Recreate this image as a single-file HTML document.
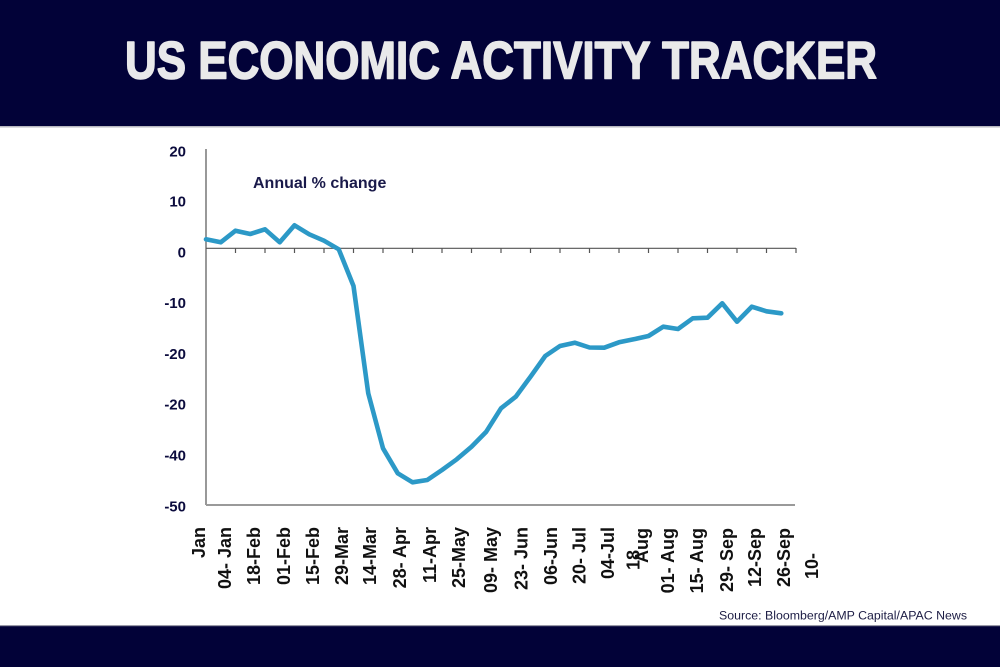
<!DOCTYPE html>
<html>
<head>
<meta charset="utf-8">
<style>
  html,body{margin:0;padding:0;background:#fff;}
  body{width:1000px;height:667px;overflow:hidden;}
  svg{display:block;}
  .yl{font-family:"Liberation Sans",Arial,sans-serif;font-weight:bold;font-size:15px;fill:#0b0b3d;}
  .xl{font-family:"Liberation Sans",Arial,sans-serif;font-weight:bold;font-size:18px;fill:#111;}
</style>
</head>
<body>
<svg width="1000" height="667" viewBox="0 0 1000 667" xmlns="http://www.w3.org/2000/svg">
  <!-- header -->
  <rect x="0" y="0" width="1000" height="126" fill="#020238"/>
  <rect x="0" y="126" width="1000" height="1.5" fill="#b8b8c0"/>
  <text x="125" y="78.5" font-family="'Liberation Sans',Arial,sans-serif" font-weight="bold" font-size="53" fill="#e9e9ea" stroke="#e9e9ea" stroke-width="1.6" stroke-linejoin="round" textLength="752" lengthAdjust="spacingAndGlyphs">US ECONOMIC ACTIVITY TRACKER</text>

  <!-- footer -->
  <rect x="0" y="626" width="1000" height="41" fill="#020238"/>
  <rect x="0" y="625" width="1000" height="1.2" fill="#9a9aa8"/>
  <text x="719" y="619.5" font-family="'Liberation Sans',Arial,sans-serif" font-size="12.3" fill="#1c1c44" textLength="248" lengthAdjust="spacingAndGlyphs">Source: Bloomberg/AMP Capital/APAC News</text>

  <!-- axes -->
  <line x1="206" y1="149" x2="206" y2="505" stroke="#555" stroke-width="1.2"/>
  <line x1="206" y1="505" x2="795" y2="505" stroke="#9a9a9a" stroke-width="2"/>
  <line x1="206" y1="248.3" x2="796" y2="248.3" stroke="#555" stroke-width="1.2"/>
  <g stroke="#555" stroke-width="1.2">
    <line x1="235.5" y1="248" x2="235.5" y2="253"/>
    <line x1="265" y1="248" x2="265" y2="253"/>
    <line x1="294.5" y1="248" x2="294.5" y2="253"/>
    <line x1="324" y1="248" x2="324" y2="253"/>
    <line x1="353.5" y1="248" x2="353.5" y2="253"/>
    <line x1="383" y1="248" x2="383" y2="253"/>
    <line x1="412.5" y1="248" x2="412.5" y2="253"/>
    <line x1="442" y1="248" x2="442" y2="253"/>
    <line x1="471.5" y1="248" x2="471.5" y2="253"/>
    <line x1="501" y1="248" x2="501" y2="253"/>
    <line x1="530.5" y1="248" x2="530.5" y2="253"/>
    <line x1="560" y1="248" x2="560" y2="253"/>
    <line x1="589.5" y1="248" x2="589.5" y2="253"/>
    <line x1="619" y1="248" x2="619" y2="253"/>
    <line x1="648.5" y1="248" x2="648.5" y2="253"/>
    <line x1="678" y1="248" x2="678" y2="253"/>
    <line x1="707.5" y1="248" x2="707.5" y2="253"/>
    <line x1="737" y1="248" x2="737" y2="253"/>
    <line x1="766.5" y1="248" x2="766.5" y2="253"/>
    <line x1="796" y1="248" x2="796" y2="253"/>
  </g>

  <!-- y labels -->
  <g class="yl" text-anchor="end" dominant-baseline="central">
    <text x="186" y="152">20</text>
    <text x="186" y="202">10</text>
    <text x="186" y="253">0</text>
    <text x="186" y="303.5">-10</text>
    <text x="186" y="354.5">-20</text>
    <text x="186" y="405">-20</text>
    <text x="186" y="456">-40</text>
    <text x="186" y="507">-50</text>
  </g>

  <text x="253" y="188" font-family="'Liberation Sans',Arial,sans-serif" font-weight="bold" font-size="16" fill="#1a1a4a">Annual % change</text>

  <!-- series -->
  <polyline fill="none" stroke="#2c99c7" stroke-width="4.6" stroke-linejoin="round" stroke-linecap="round"
    points="206,239.3 220.75,242.3 235.5,230.7 250.25,234 265,229.3 279.75,242.3 294.5,225.3 309.25,234.3 324,240.7 338.75,249.3 353.5,286 368.25,393.3 383,448.3 397.75,473.3 412.5,482.3 427.25,480 442,470 456.75,459.3 471.5,446.7 486.25,431.7 501,408.3 515.75,396.7 530.5,376.7 545.25,356 560,346 574.75,342.7 589.5,347.5 604.25,347.7 619,342.3 633.75,339.3 648.5,336 663.25,326.7 678,329 692.75,318.3 707.5,317.7 722.25,303.3 737,321.7 751.75,306.7 766.5,311.3 781.25,313.3"/>

  <!-- x labels -->
  <g class="xl" text-anchor="end" dominant-baseline="central">
    <text transform="translate(199,527) rotate(-90)">Jan</text>
    <text transform="translate(225,527) rotate(-90)">04- Jan</text>
    <text transform="translate(254,527) rotate(-90)">18-Feb</text>
    <text transform="translate(284,527) rotate(-90)">01-Feb</text>
    <text transform="translate(313,527) rotate(-90)">15-Feb</text>
    <text transform="translate(342,527) rotate(-90)">29-Mar</text>
    <text transform="translate(370,527) rotate(-90)">14-Mar</text>
    <text transform="translate(400,527) rotate(-90)">28- Apr</text>
    <text transform="translate(430,527) rotate(-90)">11-Apr</text>
    <text transform="translate(459,527) rotate(-90)">25-May</text>
    <text transform="translate(491,527) rotate(-90)">09- May</text>
    <text transform="translate(521.5,527) rotate(-90)">23- Jun</text>
    <text transform="translate(551,527) rotate(-90)">06-Jun</text>
    <text transform="translate(579.5,527) rotate(-90)">20- Jul</text>
    <text transform="translate(608,527) rotate(-90)">04-Jul</text>
    <text transform="translate(642,528) rotate(-90)">Aug</text>
    <text transform="translate(633.5,550) rotate(-90)">18</text>
    <text transform="translate(668,528) rotate(-90)">01- Aug</text>
    <text transform="translate(697,528) rotate(-90)">15- Aug</text>
    <text transform="translate(727,528) rotate(-90)">29- Sep</text>
    <text transform="translate(755,528) rotate(-90)">12-Sep</text>
    <text transform="translate(784,528) rotate(-90)">26-Sep</text>
    <text transform="translate(812,553) rotate(-90)">10-</text>
  </g>
</svg>
</body>
</html>
